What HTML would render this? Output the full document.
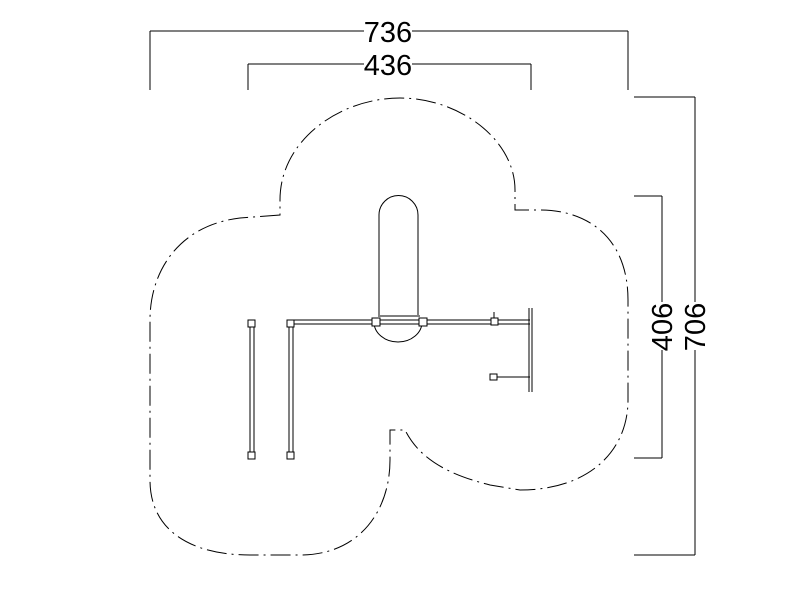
<!DOCTYPE html>
<html><head><style>body{margin:0;background:#fff}svg{display:block}</style></head><body>
<svg width="800" height="600" viewBox="0 0 800 600" xmlns="http://www.w3.org/2000/svg" font-family="Liberation Sans, sans-serif">
<g stroke="#000" stroke-width="1" fill="none">
<line x1="150" y1="31" x2="628" y2="31"/>
<line x1="150" y1="31" x2="150" y2="90"/>
<line x1="628" y1="31" x2="628" y2="90"/>
<line x1="248" y1="64" x2="531" y2="64"/>
<line x1="248" y1="64" x2="248" y2="90"/>
<line x1="531" y1="64" x2="531" y2="90"/>
<line x1="695" y1="97" x2="695" y2="555"/>
<line x1="634" y1="97" x2="695" y2="97"/>
<line x1="634" y1="555" x2="695" y2="555"/>
<line x1="662" y1="196" x2="662" y2="458"/>
<line x1="634" y1="196" x2="662" y2="196"/>
<line x1="634" y1="458" x2="662" y2="458"/>
<path stroke-dasharray="20,5,2,5" d="M280 215 L240 218 C180 225 150 270 150 320 L150 480 C150 530 190 555 250 555 L300 555 C360 555 390 510 390 460 L390 430 L405 430 C420 460 450 475 490 485 L520 490 C590 490 628 450 628 400 L628 300 C628 240 590 210 540 210 L515 210 L515 190 C515 140 460 98 400 98 C340 98 280 140 280 200 Z"/>
<path d="M379 315 L379 215 A19 19 0 0 1 418 215 L418 315"/>
<path d="M374 322 A24 20 0 0 0 422 322"/>
<line x1="378" y1="316" x2="420" y2="316"/>
<line x1="290" y1="320" x2="530" y2="320"/>
<line x1="290" y1="324" x2="530" y2="324"/>
<rect x="287" y="320" width="7" height="7" fill="#fff"/>
<rect x="372" y="318" width="8" height="8" fill="#fff"/>
<rect x="419" y="318" width="8" height="8" fill="#fff"/>
<rect x="491" y="318" width="7" height="7" fill="#fff"/>
<line x1="494" y1="312" x2="494" y2="318"/>
<line x1="529" y1="308" x2="529" y2="392"/>
<line x1="532" y1="308" x2="532" y2="392"/>
<line x1="494" y1="377" x2="530" y2="377"/>
<rect x="490" y="374" width="7" height="6" fill="#fff"/>
<line x1="250" y1="327" x2="250" y2="452"/>
<line x1="254" y1="327" x2="254" y2="452"/>
<rect x="248" y="320" width="7" height="7" fill="#fff"/>
<rect x="248" y="452" width="7" height="7" fill="#fff"/>
<line x1="289" y1="327" x2="289" y2="452"/>
<line x1="293" y1="327" x2="293" y2="452"/>
<rect x="287" y="452" width="7" height="7" fill="#fff"/>
</g>
<g font-size="29" fill="#000" text-anchor="middle">
<rect x="364" y="18" width="48" height="26" fill="#fff"/>
<text x="388" y="42">736</text>
<rect x="364" y="52" width="48" height="26" fill="#fff"/>
<text x="388" y="75">436</text>
<rect x="648" y="302" width="28" height="48" fill="#fff"/>
<text transform="translate(672,327) rotate(-90)">406</text>
<rect x="681" y="302" width="28" height="48" fill="#fff"/>
<text transform="translate(705,327) rotate(-90)">706</text>
</g>
</svg>
</body></html>
